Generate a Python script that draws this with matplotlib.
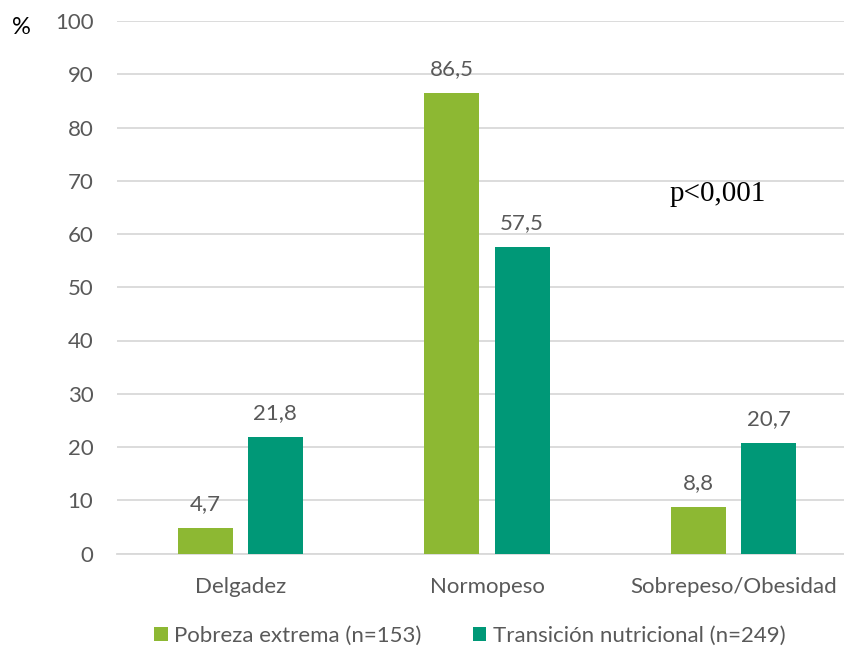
import numpy as np
import matplotlib
matplotlib.use('Agg')
import matplotlib.pyplot as plt

categorias = ['Delgadez', 'Normopeso', 'Sobrepeso/Obesidad']
pobreza = [4.7, 86.5, 8.8]
transicion = [21.8, 57.5, 20.7]
series = ['Pobreza extrema (n=153)', 'Transición nutricional (n=249)']

verde = '#8DB833'
azul_verde = '#009877'
gris_texto = '#595959'
gris_rejilla = '#D9D9D9'

plt.rcParams['font.family'] = ['Lato', 'DejaVu Sans']

fig = plt.figure(figsize=(8.45, 6.48), dpi=100)
ax = fig.add_axes([117 / 845, 1 - 553.5 / 648, 1 - 117 / 845, (553.5 - 21) / 648])

x = np.arange(len(categorias))
ancho = 0.223
desp = 0.142

b1 = ax.bar(x - desp, pobreza, ancho, color=verde, label=series[0], zorder=3)
b2 = ax.bar(x + desp, transicion, ancho, color=azul_verde, label=series[1], zorder=3)

# Etiquetas con el valor encima de cada barra (coma decimal)
for barras in (b1, b2):
    for b in barras:
        v = b.get_height()
        ax.annotate(f'{v:.1f}'.replace('.', ','),
                    (b.get_x() + b.get_width() / 2, v),
                    xytext=(0, 10), textcoords='offset points',
                    ha='center', va='bottom', fontsize=16, color=gris_texto)

ax.set_ylim(0, 100)
ax.set_yticks(range(0, 101, 10))
ax.set_xlim(-0.5, 2.5 - 12 / 246.7)
ax.set_xticks(x)
ax.set_xticklabels(categorias)
ax.tick_params(axis='both', length=0, labelsize=16, labelcolor=gris_texto)
ax.tick_params(axis='y', pad=17)
ax.tick_params(axis='x', pad=17)
ax.grid(axis='y', color=gris_rejilla, linewidth=1.3, zorder=0)
for s in ['top', 'right', 'left']:
    ax.spines[s].set_visible(False)
ax.spines['bottom'].set_color(gris_rejilla)
ax.spines['bottom'].set_linewidth(1.3)

fig.text(21 / 845, 1 - 28 / 648, '%', fontsize=17, color='black', ha='center', va='center')
ax.text(2.0 - 16 / 246.7, 67.5, 'p<0,001', fontsize=21, family='Liberation Serif',
        ha='center', va='center', color='black')

fig.legend(loc='center', bbox_to_anchor=(470 / 845, 1 - 636 / 648), ncol=2, frameon=False,
           fontsize=16, labelcolor=gris_texto, handlelength=0.6, handleheight=0.6,
           handletextpad=0.3, columnspacing=2.3)

fig.savefig('out.png', dpi=100)
